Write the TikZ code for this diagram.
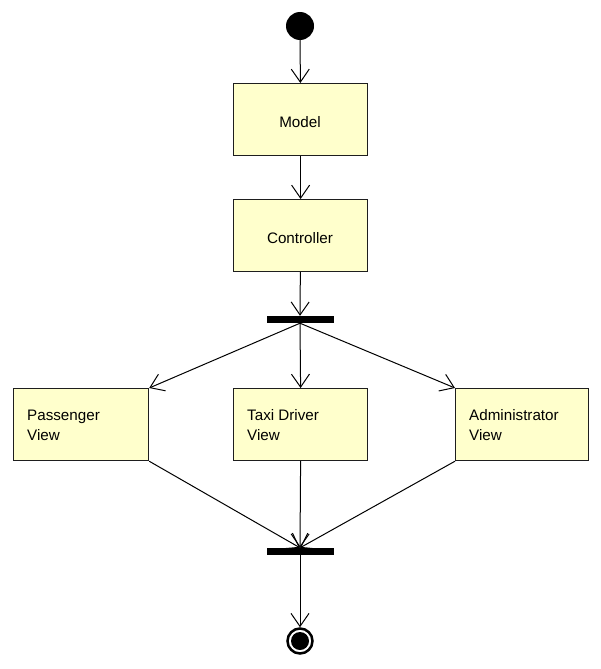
\documentclass[tikz,border=0pt]{standalone}
\usepackage{fontspec}
\setmainfont{Liberation Sans}
\usetikzlibrary{arrows.meta}
\definecolor{boxfill}{RGB}{255,255,204}
\definecolor{boxdraw}{RGB}{30,30,30}
\begin{document}
\begin{tikzpicture}[x=1pt,y=-1pt,
  every node/.style={font=\fontsize{15.2}{20}\selectfont},
  actbox/.style={draw=boxdraw,fill=boxfill,line width=1.2pt,minimum width=134pt,minimum height=72pt,inner sep=0pt,anchor=north west},
  lbl/.style={inner sep=0pt},
  bar/.style={fill=black,minimum width=67pt,minimum height=7pt,inner sep=0pt},
  flow/.style={line width=1pt,-{Straight Barb[length=13pt,width=18pt,line width=1pt]}}]
\useasboundingbox (0,0) rectangle (601,669);
\node[circle,fill=black,minimum size=28pt,inner sep=0pt] (start) at (300,26) {};
\node[actbox] (model) at (233,83) {};
\node[lbl] (modeltxt) at (300,122) {Model};
\node[actbox] (ctrl) at (233,199) {};
\node[lbl] (ctrltxt) at (300,238) {Controller};
\node[bar] (fork) at (300,319.5) {};
\node[actbox,minimum width=135pt] (pass) at (13,388) {};
\node[actbox] (taxi) at (233,388) {};
\node[actbox,minimum width=133pt] (admin) at (455,388) {};
\node[lbl,align=left,anchor=west] (passtxt) at (27,425.5) {Passenger\\View};
\node[lbl,align=left,anchor=west] (taxitxt) at (247,425.5) {Taxi Driver\\View};
\node[lbl,align=left,anchor=west] (admintxt) at (469,425.5) {Administrator\\View};
\node[bar] (join) at (300,551.5) {};
\node[circle,draw=black,fill=white,line width=2.5pt,minimum size=25pt,inner sep=0pt] (end) at (300,641) {};
\node[circle,fill=black,minimum size=18pt,inner sep=0pt] (endcore) at (end.center) {};
\draw[flow] (start) -- (model);
\draw[flow] (model) -- (ctrl);
\draw[flow] (ctrl) -- (fork);
\draw[flow] (fork.south) -- (pass.north east);
\draw[flow] (fork.south) -- (taxi.north);
\draw[flow] (fork.south) -- (admin.north west);
\draw[flow] (pass.south east) -- (join.north);
\draw[flow] (taxi.south) -- (join.north);
\draw[flow] (admin.south west) -- (join.north);
\draw[flow] (join) -- (end);
\end{tikzpicture}
\end{document}
